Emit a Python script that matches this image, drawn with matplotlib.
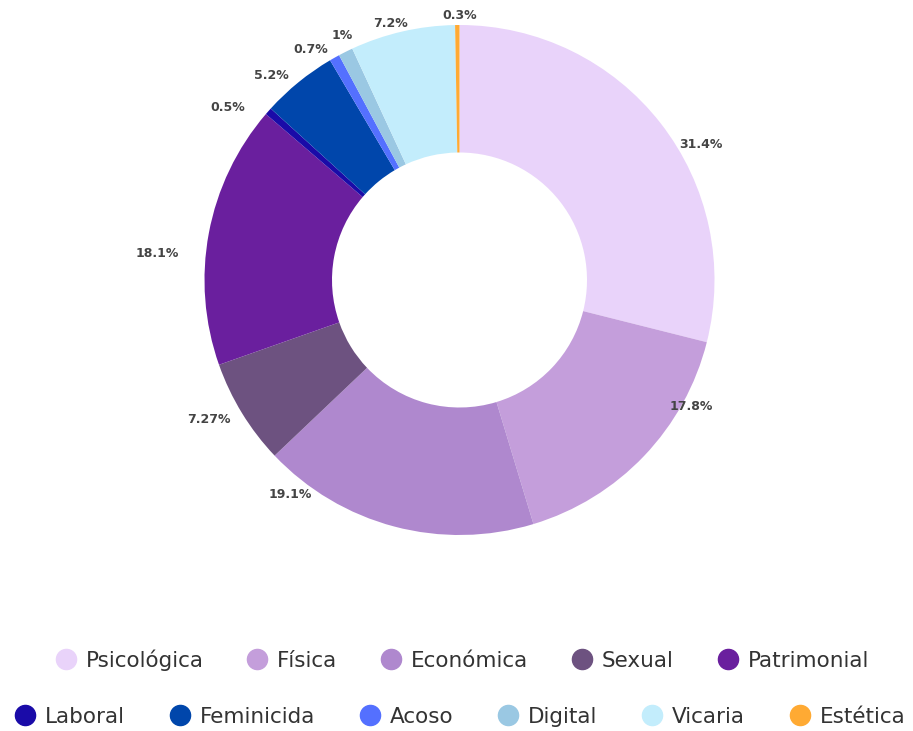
import matplotlib
matplotlib.use("Agg")
import matplotlib.pyplot as plt
from matplotlib.lines import Line2D
import numpy as np

# ---- data ----
categories = ["Psicológica", "Física", "Económica", "Sexual", "Patrimonial",
              "Laboral", "Feminicida", "Acoso", "Digital", "Vicaria", "Estética"]
values = [31.4, 17.8, 19.1, 7.27, 18.1, 0.5, 5.2, 0.7, 1, 7.2, 0.3]
value_labels = ["31.4%", "17.8%", "19.1%", "7.27%", "18.1%", "0.5%",
                "5.2%", "0.7%", "1%", "7.2%", "0.3%"]

# ---- style / layout ----
colors = ["#E9D3FA", "#C49EDB", "#AF88CE", "#6D5280", "#6A1F9E",
          "#1A0BA8", "#0046AB", "#5470FF", "#9AC8E3", "#C3EDFC", "#FFAA33"]
# label placement: (angle clockwise from top in degrees, radius factor)
label_layout = [(60.7, 1.085), (118.7, 1.035), (218.3, 1.07), (240.9, 1.126),
                (275.1, 1.19), (306.6, 1.132), (317.3, 1.09), (327.1, 1.077),
                (334.3, 1.062), (345.0, 1.041), (0.0, 1.037)]

W, H, DPI = 913, 731, 100
R_PX = 255.0
CX, CY = 459.5, 280.0

fig = plt.figure(figsize=(W / DPI, H / DPI), dpi=DPI)
ax = fig.add_axes([0, 0, 1, 1])

ax.pie(values, colors=colors, startangle=90, counterclock=False, radius=1.0,
       wedgeprops=dict(width=0.5, linewidth=0))

ax.set_xlim(-CX / R_PX, (W - CX) / R_PX)
ax.set_ylim((CY - H) / R_PX, CY / R_PX)
ax.set_aspect("auto")
ax.axis("off")

for lab, (ang, rf) in zip(value_labels, label_layout):
    t = np.deg2rad(ang)
    ax.text(rf * np.sin(t), rf * np.cos(t), lab, ha="center", va="center",
            fontsize=9, fontweight="bold", color="#444444",
            family="DejaVu Sans")

handles = [Line2D([], [], marker="o", linestyle="none", markersize=14.5,
                  markerfacecolor=c, markeredgecolor=c) for c in colors]

common = dict(frameon=False, fontsize=15.5, handlelength=1.0, handletextpad=0.42,
              borderpad=0, borderaxespad=0)
leg1 = fig.legend(handles[:5], categories[:5], ncol=5, loc="center",
                  bbox_to_anchor=(462 / W, 1 - 660 / H), columnspacing=2.0, **common)
leg2 = fig.legend(handles[5:], categories[5:], ncol=6, loc="center",
                  bbox_to_anchor=(460 / W, 1 - 717 / H), columnspacing=2.05, **common)
for leg in (leg1, leg2):
    for t in leg.get_texts():
        t.set_color("#333333")

fig.savefig("out.png", dpi=DPI)
